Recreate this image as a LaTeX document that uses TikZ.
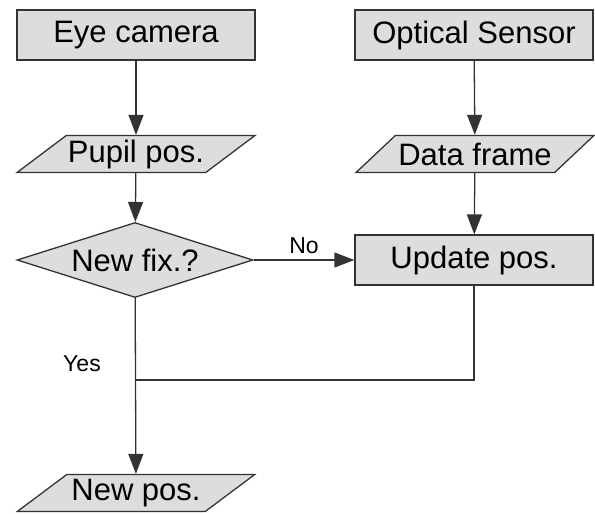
\documentclass[tikz,border=0pt]{standalone}
\usepackage{fontspec}
\setmainfont{Liberation Sans}
\usetikzlibrary{shapes.geometric, arrows.meta, positioning}
\definecolor{boxfill}{RGB}{221,221,221}
\definecolor{boxline}{RGB}{51,51,51}

\begin{document}
\begin{tikzpicture}[x=1pt, y=-1pt,
  every node/.style={font=\fontsize{31}{36}\selectfont},
  process/.style={draw=boxline, line width=1.3pt, fill=boxfill, minimum width=238pt, minimum height=50pt, inner sep=0pt},
  data/.style={trapezium, trapezium left angle=31, trapezium right angle=149, trapezium stretches=true, draw=boxline, line width=1.3pt, fill=boxfill, minimum width=238pt, minimum height=37pt, inner sep=0pt},
  decision/.style={diamond, aspect=3.15, draw=boxline, line width=1.3pt, fill=boxfill, minimum width=236pt, minimum height=75pt, inner sep=0pt},
  flow/.style={line width=1.3pt, draw=boxline, -{Triangle[length=20pt, width=15pt]}},
  lbl/.style={font=\fontsize{23}{26}\selectfont}]
\useasboundingbox (0,0) rectangle (595,514);

\node[process] (cam) at (136,35) {Eye camera};
\node[data] (pupil) at (136,154) {Pupil pos.};
\node[decision] (fix) at (135,260) {New fix.?};
\node[data] (newpos) at (136,493) {New pos.};

\node[process] (sensor) at (474,35) {Optical Sensor};
\node[data] (frame) at (475,154) {Data frame};
\node[process] (upd) at (474,260) {Update pos.};

\coordinate (join) at (135,380);

\draw[flow] (cam) -- (pupil);
\draw[flow] (pupil) -- (fix);
\draw[flow] (sensor) -- (frame);
\draw[flow] (frame) -- (upd);
\draw[flow] (fix) -- node[lbl, above, yshift=2pt] {No} (upd);
\draw[flow] (fix) -- (newpos);
\draw[line width=1.3pt, draw=boxline] (upd) |- (join);
\node[lbl] (yes) at (82,364) {Yes};
\end{tikzpicture}
\end{document}
